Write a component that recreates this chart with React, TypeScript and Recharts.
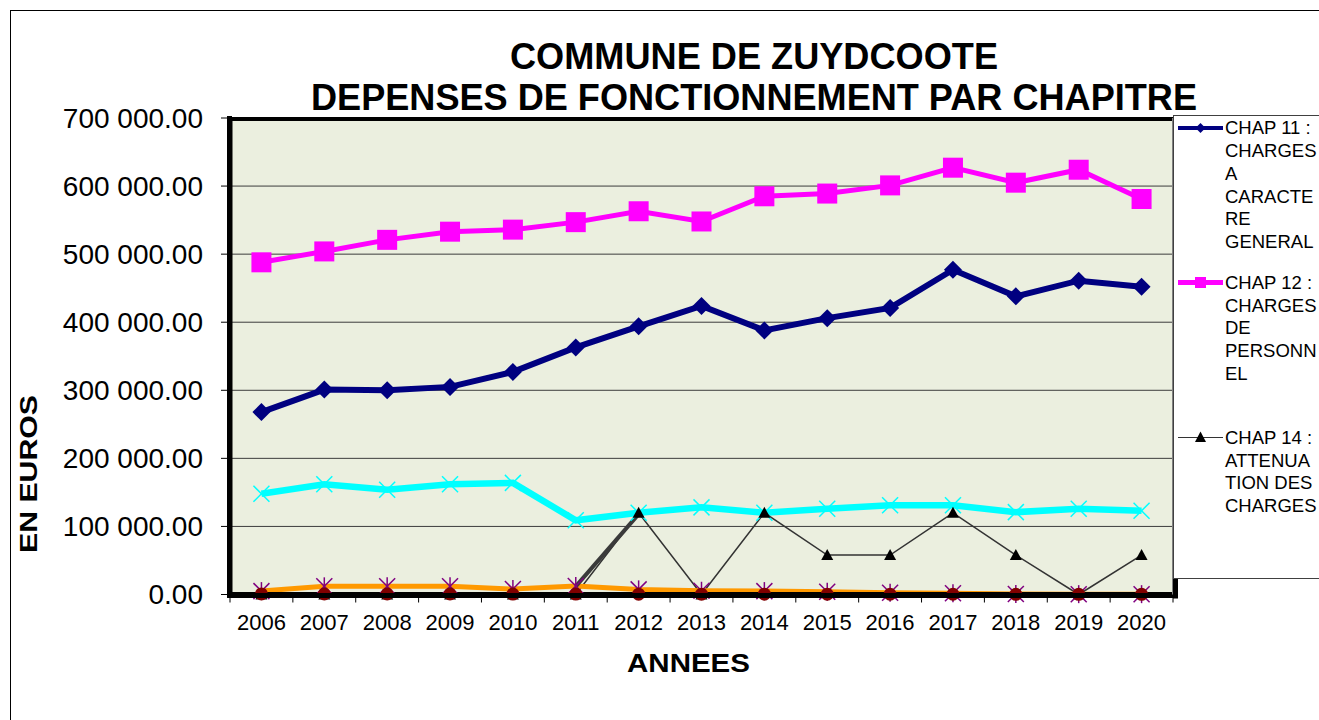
import React from 'react';
import { LineChart, Line, XAxis, YAxis, CartesianGrid } from 'recharts';

const years = ['2006', '2007', '2008', '2009', '2010', '2011', '2012', '2013', '2014', '2015', '2016', '2017', '2018', '2019', '2020'];
const chap11 = [268000, 301000, 300000, 305000, 327000, 363000, 394000, 424000, 388000, 406000, 421000, 477000, 438000, 461000, 452000];
const chap12 = [488000, 504000, 521000, 533000, 536000, 547000, 563000, 548000, 585000, 589000, 601000, 627000, 605000, 624000, 581000];
const chap14 = [0, 0, 0, 0, 0, 0, 120000, 0, 120000, 58000, 58000, 120000, 58000, 0, 58000];
const chap65 = [148000, 162000, 154000, 162000, 164000, 109000, 120000, 128000, 120000, 126000, 131000, 131000, 121000, 126000, 123000];
const chap66 = [5000, 12000, 12000, 12000, 8000, 12500, 7500, 5500, 5000, 4000, 2500, 1800, 800, 500, 500];
const chap67 = [800, 700, 700, 700, 600, 600, 500, 500, 500, 400, 400, 400, 300, 300, 300];
const chap014 = [null, null, null, null, null, 12000, 118000, null, null, null, null, null, null, null, null];
const yTicks = [0, 100000, 200000, 300000, 400000, 500000, 600000, 700000];

const legend11 = ['CHAP 11 :', 'CHARGES', 'A', 'CARACTE', 'RE', 'GENERAL'];
const legend12 = ['CHAP 12 :', 'CHARGES', 'DE', 'PERSONN', 'EL'];
const legend14 = ['CHAP 14 :', 'ATTENUA', 'TION DES', 'CHARGES'];

const data = years.map((year, i) => ({
  year,
  chap11: chap11[i],
  chap12: chap12[i],
  chap14: chap14[i],
  chap65: chap65[i],
  chap66: chap66[i],
  chap67: chap67[i],
  chap014: chap014[i],
}));

const W = 1319;
const H = 720;
const M = { top: 118, right: 146, bottom: 65.5, left: 0 };
const Y_W = 230;
const PLOT_R = W - M.right;
const PLOT_B = H - M.bottom - 60;
const BAND = (PLOT_R - Y_W) / years.length;
const FONT = '"Liberation Sans", Arial, sans-serif';

const fmt = (v: number) => {
  const [int, dec] = v.toFixed(2).split('.');
  return int.replace(/\B(?=(\d{3})+(?!\d))/g, ' ') + '.' + dec;
};

const Diamond = ({ cx, cy }: any) =>
  cx == null || cy == null ? <g /> : <polygon points={`${cx},${cy - 9} ${cx + 9},${cy} ${cx},${cy + 9} ${cx - 9},${cy}`} fill="#000080" />;
const Square = ({ cx, cy }: any) =>
  cx == null || cy == null ? <g /> : <rect x={cx - 10} y={cy - 10} width={20} height={20} fill="#FF00FF" />;
const Triangle = ({ cx, cy }: any) =>
  cx == null || cy == null ? <g /> : <polygon points={`${cx},${cy - 6} ${cx + 6},${cy + 5} ${cx - 6},${cy + 5}`} fill="#000" />;
const Cross = ({ cx, cy }: any) =>
  cx == null || cy == null ? <g /> : (
    <g stroke="#00FFFF" strokeWidth={1.5}>
      <line x1={cx - 8} y1={cy - 8} x2={cx + 8} y2={cy + 8} />
      <line x1={cx - 8} y1={cy + 8} x2={cx + 8} y2={cy - 8} />
    </g>
  );
const Star = ({ cx, cy }: any) =>
  cx == null || cy == null ? <g /> : (
    <g stroke="#800080" strokeWidth={1.5}>
      <line x1={cx - 8} y1={cy - 8} x2={cx + 8} y2={cy + 8} />
      <line x1={cx - 8} y1={cy + 8} x2={cx + 8} y2={cy - 8} />
      <line x1={cx} y1={cy - 9} x2={cx} y2={cy + 9} />
    </g>
  );
const Circle = ({ cx, cy }: any) =>
  cx == null || cy == null ? <g /> : <circle cx={cx} cy={cy} r={6.5} fill="#800000" />;

const YearTick = ({ x, y, payload, index }: any) => (
  <g>
    <line x1={x - BAND / 2} y1={y} x2={x - BAND / 2} y2={y + 8} stroke="#000" />
    {index === years.length - 1 && <line x1={x + BAND / 2} y1={y} x2={x + BAND / 2} y2={y + 8} stroke="#000" />}
    <text x={x} y={y + 35.5} textAnchor="middle" fontSize={22} fontFamily={FONT} fill="#000">
      {payload.value}
    </text>
  </g>
);

const LegendEntry = ({ y, lines, marker }: { y: number; lines: string[]; marker: React.ReactNode }) => (
  <g>
    {marker}
    {lines.map((t, i) => (
      <text key={i} x={51} y={y + i * 22.7} dy="0.35em" fontSize={18.5} fontFamily={FONT} fill="#000">
        {t}
      </text>
    ))}
  </g>
);

export default function App() {
  return (
    <div style={{ position: 'fixed', left: 0, top: 0, width: W, height: H, overflow: 'hidden', background: '#fff' }}>
      <svg width={W} height={H} style={{ position: 'absolute', left: 0, top: 0 }}>
        <rect x={10.5} y={10.5} width={1400} height={800} fill="none" stroke="#000" />
        <text x={754} y={69} textAnchor="middle" fontSize={36} fontWeight="bold" fontFamily={FONT} textLength={488} lengthAdjust="spacingAndGlyphs">
          COMMUNE DE ZUYDCOOTE
        </text>
        <text x={754} y={110} textAnchor="middle" fontSize={36} fontWeight="bold" fontFamily={FONT} textLength={886} lengthAdjust="spacingAndGlyphs">
          DEPENSES DE FONCTIONNEMENT PAR CHAPITRE
        </text>
        <text x={688.5} y={672} textAnchor="middle" fontSize={26} fontWeight="bold" fontFamily={FONT} textLength={123} lengthAdjust="spacingAndGlyphs">
          ANNEES
        </text>
        <text transform="translate(37,474) rotate(-90)" textAnchor="middle" fontSize={23} fontWeight="bold" fontFamily={FONT} textLength={158} lengthAdjust="spacingAndGlyphs">
          EN EUROS
        </text>
      </svg>
      <div style={{ position: 'absolute', left: 0, top: 0 }}>
        <LineChart width={W} height={H} data={data} margin={M}>
          <CartesianGrid vertical={false} stroke="#3c3c3c" fill="#EBEFDF" fillOpacity={1} />
          <XAxis
            dataKey="year"
            scale="band"
            height={60}
            tickLine={false}
            tickSize={0}
            tickMargin={0}
            axisLine={{ stroke: '#000', strokeWidth: 5 }}
            tick={<YearTick />}
            interval={0}
          />
          <XAxis xAxisId="top" dataKey="year" orientation="top" height={0} tick={false} tickLine={false} axisLine={{ stroke: '#000', strokeWidth: 4 }} />
          <YAxis
            width={Y_W}
            domain={[0, 700000]}
            ticks={yTicks}
            tickFormatter={fmt}
            tickSize={9}
            tickMargin={18}
            tick={{ fontSize: 28, fill: '#000', fontFamily: FONT }}
            tickLine={{ stroke: '#000' }}
            axisLine={{ stroke: '#000', strokeWidth: 5 }}
          />
          <YAxis yAxisId="r" orientation="right" width={0} domain={[0, 700000]} tick={false} tickLine={false} axisLine={{ stroke: '#808080' }} />
          <Line dataKey="chap65" name="CHAP 65" stroke="#00FFFF" strokeWidth={6.5} dot={<Cross />} activeDot={false} isAnimationActive={false} />
          <Line dataKey="chap14" name="CHAP 14 : ATTENUATION DES CHARGES" stroke="#333" strokeWidth={1.5} dot={<Triangle />} activeDot={false} isAnimationActive={false} />
          <Line dataKey="chap66" name="CHAP 66" stroke="#FF9900" strokeWidth={5} dot={<Star />} activeDot={false} isAnimationActive={false} />
          <Line dataKey="chap67" name="CHAP 67" stroke="#800000" strokeWidth={2} dot={<Circle />} activeDot={false} isAnimationActive={false} />
          <Line dataKey="chap014" name="CHAP 014" stroke="#3a3a3a" strokeWidth={4} dot={false} activeDot={false} connectNulls={false} isAnimationActive={false} />
          <Line dataKey="chap11" name="CHAP 11 : CHARGES A CARACTERE GENERAL" stroke="#000080" strokeWidth={6} dot={<Diamond />} activeDot={false} isAnimationActive={false} />
          <Line dataKey="chap12" name="CHAP 12 : CHARGES DE PERSONNEL" stroke="#FF00FF" strokeWidth={5} dot={<Square />} activeDot={false} isAnimationActive={false} />
        </LineChart>
      </div>
      {/* plot frame: heavy left/top/bottom edges and a drop shadow on the right */}
      <svg width={W} height={H} style={{ position: 'absolute', left: 0, top: 0, pointerEvents: 'none' }}>
        <line x1={Y_W - 0.5} y1={M.top - 2} x2={Y_W - 0.5} y2={PLOT_B + 3} stroke="#000" strokeWidth={5} />
        <line x1={Y_W - 3} y1={M.top + 1} x2={PLOT_R} y2={M.top + 1} stroke="#000" strokeWidth={4} />
        <line x1={Y_W - 3} y1={PLOT_B + 1} x2={PLOT_R + 5} y2={PLOT_B + 1} stroke="#000" strokeWidth={5} />
        <rect x={PLOT_R} y={M.top + 4} width={5} height={PLOT_B - M.top} fill="#000" />
        <line x1={PLOT_R - 0.5} y1={M.top} x2={PLOT_R - 0.5} y2={PLOT_B} stroke="#808080" />
      </svg>
      <div
        style={{
          position: 'absolute',
          left: 1173,
          top: 115,
          width: 170,
          height: 464,
          background: '#fff',
          border: '1px solid #404040',
          boxSizing: 'border-box',
        }}
      >
        <svg width={170} height={462} style={{ display: 'block' }}>
          <LegendEntry
            y={12}
            lines={legend11}
            marker={
              <g>
                <line x1={4} y1={12} x2={49} y2={12} stroke="#000080" strokeWidth={4} />
                <polygon points="26.5,7 31.5,12 26.5,17 21.5,12" fill="#000080" />
              </g>
            }
          />
          <LegendEntry
            y={166.5}
            lines={legend12}
            marker={
              <g>
                <line x1={4} y1={166.5} x2={49} y2={166.5} stroke="#FF00FF" strokeWidth={5} />
                <rect x={21} y={161} width={11} height={11} fill="#FF00FF" />
              </g>
            }
          />
          <LegendEntry
            y={321.5}
            lines={legend14}
            marker={
              <g>
                <line x1={4} y1={321.5} x2={49} y2={321.5} stroke="#333" strokeWidth={1.2} />
                <polygon points="26.5,315.5 32,326 21,326" fill="#000" />
              </g>
            }
          />
        </svg>
      </div>
    </div>
  );
}
